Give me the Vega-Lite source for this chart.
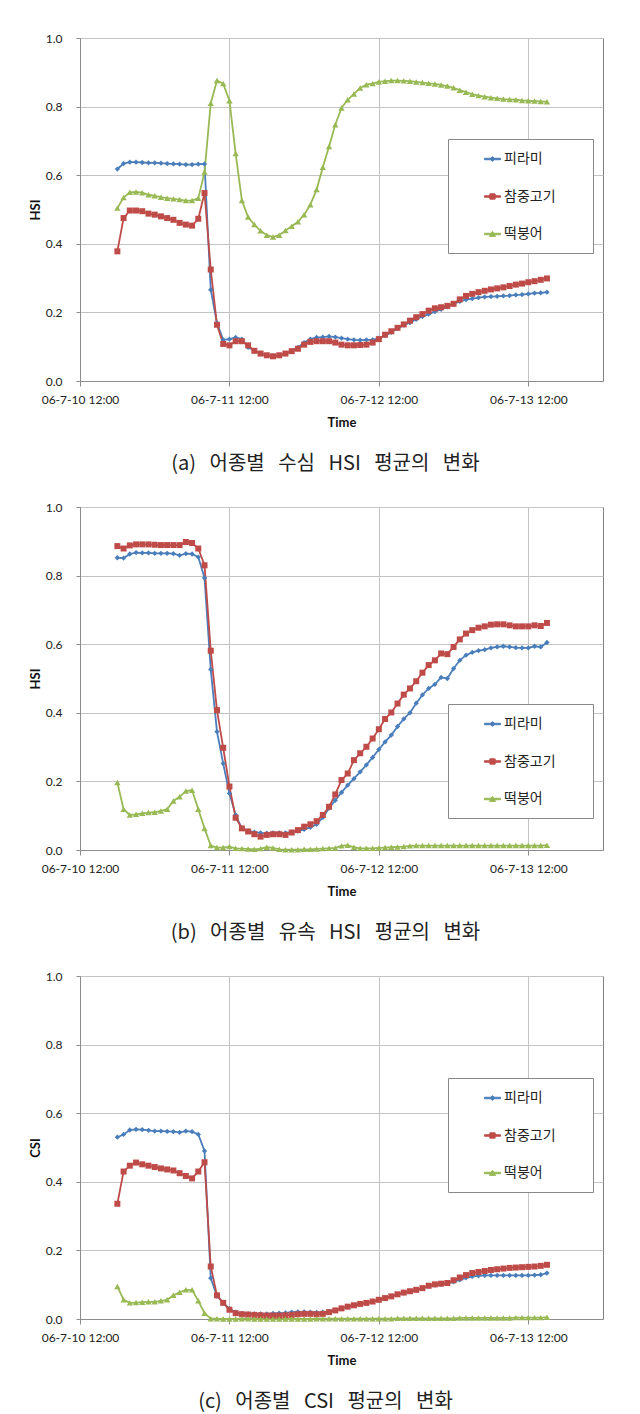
{
  "$schema": "https://vega.github.io/schema/vega-lite/v6.json",
  "padding": {"left": 28, "top": 31, "right": 5, "bottom": 5},
  "background": "white",
  "bounds": "flush",
  "spacing": 126,
  "datasets": {
    "a": [
      {"t":"2006-07-10T18:00","피라미":0.618,"참중고기":0.378,"떡붕어":0.504},
      {"t":"2006-07-10T19:00","피라미":0.634,"참중고기":0.475,"떡붕어":0.535},
      {"t":"2006-07-10T20:00","피라미":0.638,"참중고기":0.497,"떡붕어":0.550},
      {"t":"2006-07-10T21:00","피라미":0.638,"참중고기":0.497,"떡붕어":0.551},
      {"t":"2006-07-10T22:00","피라미":0.637,"참중고기":0.495,"떡붕어":0.549},
      {"t":"2006-07-10T23:00","피라미":0.636,"참중고기":0.488,"떡붕어":0.543},
      {"t":"2006-07-11T00:00","피라미":0.636,"참중고기":0.485,"떡붕어":0.540},
      {"t":"2006-07-11T01:00","피라미":0.635,"참중고기":0.480,"떡붕어":0.536},
      {"t":"2006-07-11T02:00","피라미":0.634,"참중고기":0.475,"떡붕어":0.533},
      {"t":"2006-07-11T03:00","피라미":0.633,"참중고기":0.470,"떡붕어":0.531},
      {"t":"2006-07-11T04:00","피라미":0.632,"참중고기":0.461,"떡붕어":0.529},
      {"t":"2006-07-11T05:00","피라미":0.631,"참중고기":0.456,"떡붕어":0.526},
      {"t":"2006-07-11T06:00","피라미":0.631,"참중고기":0.453,"떡붕어":0.526},
      {"t":"2006-07-11T07:00","피라미":0.632,"참중고기":0.473,"떡붕어":0.533},
      {"t":"2006-07-11T08:00","피라미":0.633,"참중고기":0.548,"떡붕어":0.609},
      {"t":"2006-07-11T09:00","피라미":0.266,"참중고기":0.325,"떡붕어":0.810},
      {"t":"2006-07-11T10:00","피라미":0.169,"참중고기":0.164,"떡붕어":0.876},
      {"t":"2006-07-11T11:00","피라미":0.120,"참중고기":0.108,"떡붕어":0.867},
      {"t":"2006-07-11T12:00","피라미":0.122,"참중고기":0.104,"떡붕어":0.817},
      {"t":"2006-07-11T13:00","피라미":0.127,"참중고기":0.116,"떡붕어":0.663},
      {"t":"2006-07-11T14:00","피라미":0.122,"참중고기":0.116,"떡붕어":0.526},
      {"t":"2006-07-11T15:00","피라미":0.098,"참중고기":0.104,"떡붕어":0.478},
      {"t":"2006-07-11T16:00","피라미":0.088,"참중고기":0.088,"떡붕어":0.456},
      {"t":"2006-07-11T17:00","피라미":0.080,"참중고기":0.080,"떡붕어":0.438},
      {"t":"2006-07-11T18:00","피라미":0.075,"참중고기":0.075,"떡붕어":0.425},
      {"t":"2006-07-11T19:00","피라미":0.073,"참중고기":0.072,"떡붕어":0.420},
      {"t":"2006-07-11T20:00","피라미":0.075,"참중고기":0.075,"떡붕어":0.425},
      {"t":"2006-07-11T21:00","피라미":0.080,"참중고기":0.080,"떡붕어":0.439},
      {"t":"2006-07-11T22:00","피라미":0.088,"참중고기":0.087,"떡붕어":0.451},
      {"t":"2006-07-11T23:00","피라미":0.098,"참중고기":0.094,"떡붕어":0.464},
      {"t":"2006-07-12T00:00","피라미":0.112,"참중고기":0.106,"떡붕어":0.485},
      {"t":"2006-07-12T01:00","피라미":0.122,"참중고기":0.114,"떡붕어":0.514},
      {"t":"2006-07-12T02:00","피라미":0.127,"참중고기":0.116,"떡붕어":0.558},
      {"t":"2006-07-12T03:00","피라미":0.128,"참중고기":0.116,"떡붕어":0.623},
      {"t":"2006-07-12T04:00","피라미":0.130,"참중고기":0.116,"떡붕어":0.684},
      {"t":"2006-07-12T05:00","피라미":0.128,"참중고기":0.112,"떡붕어":0.747},
      {"t":"2006-07-12T06:00","피라미":0.125,"참중고기":0.106,"떡붕어":0.796},
      {"t":"2006-07-12T07:00","피라미":0.122,"참중고기":0.104,"떡붕어":0.820},
      {"t":"2006-07-12T08:00","피라미":0.120,"참중고기":0.104,"떡붕어":0.837},
      {"t":"2006-07-12T09:00","피라미":0.119,"참중고기":0.105,"떡붕어":0.854},
      {"t":"2006-07-12T10:00","피라미":0.120,"참중고기":0.106,"떡붕어":0.864},
      {"t":"2006-07-12T11:00","피라미":0.120,"참중고기":0.112,"떡붕어":0.867},
      {"t":"2006-07-12T12:00","피라미":0.125,"참중고기":0.122,"떡붕어":0.872},
      {"t":"2006-07-12T13:00","피라미":0.132,"참중고기":0.135,"떡붕어":0.874},
      {"t":"2006-07-12T14:00","피라미":0.142,"참중고기":0.145,"떡붕어":0.876},
      {"t":"2006-07-12T15:00","피라미":0.153,"참중고기":0.155,"떡붕어":0.876},
      {"t":"2006-07-12T16:00","피라미":0.163,"참중고기":0.165,"떡붕어":0.875},
      {"t":"2006-07-12T17:00","피라미":0.170,"참중고기":0.176,"떡붕어":0.874},
      {"t":"2006-07-12T18:00","피라미":0.180,"참중고기":0.186,"떡붕어":0.872},
      {"t":"2006-07-12T19:00","피라미":0.188,"참중고기":0.195,"떡붕어":0.870},
      {"t":"2006-07-12T20:00","피라미":0.195,"참중고기":0.205,"떡붕어":0.868},
      {"t":"2006-07-12T21:00","피라미":0.202,"참중고기":0.212,"떡붕어":0.866},
      {"t":"2006-07-12T22:00","피라미":0.209,"참중고기":0.215,"떡붕어":0.863},
      {"t":"2006-07-12T23:00","피라미":0.216,"참중고기":0.219,"떡붕어":0.860},
      {"t":"2006-07-13T00:00","피라미":0.225,"참중고기":0.225,"떡붕어":0.855},
      {"t":"2006-07-13T01:00","피라미":0.232,"참중고기":0.238,"떡붕어":0.848},
      {"t":"2006-07-13T02:00","피라미":0.237,"참중고기":0.248,"떡붕어":0.842},
      {"t":"2006-07-13T03:00","피라미":0.240,"참중고기":0.254,"떡붕어":0.836},
      {"t":"2006-07-13T04:00","피라미":0.243,"참중고기":0.259,"떡붕어":0.832},
      {"t":"2006-07-13T05:00","피라미":0.245,"참중고기":0.263,"떡붕어":0.829},
      {"t":"2006-07-13T06:00","피라미":0.246,"참중고기":0.267,"떡붕어":0.826},
      {"t":"2006-07-13T07:00","피라미":0.247,"참중고기":0.270,"떡붕어":0.824},
      {"t":"2006-07-13T08:00","피라미":0.248,"참중고기":0.273,"떡붕어":0.822},
      {"t":"2006-07-13T09:00","피라미":0.249,"참중고기":0.277,"떡붕어":0.821},
      {"t":"2006-07-13T10:00","피라미":0.251,"참중고기":0.281,"떡붕어":0.820},
      {"t":"2006-07-13T11:00","피라미":0.252,"참중고기":0.284,"떡붕어":0.818},
      {"t":"2006-07-13T12:00","피라미":0.254,"참중고기":0.288,"떡붕어":0.817},
      {"t":"2006-07-13T13:00","피라미":0.256,"참중고기":0.291,"떡붕어":0.816},
      {"t":"2006-07-13T14:00","피라미":0.257,"참중고기":0.295,"떡붕어":0.815},
      {"t":"2006-07-13T15:00","피라미":0.259,"참중고기":0.299,"떡붕어":0.814}
    ],
    "b": [
      {"t":"2006-07-10T18:00","피라미":0.852,"참중고기":0.886,"떡붕어":0.197},
      {"t":"2006-07-10T19:00","피라미":0.851,"참중고기":0.879,"떡붕어":0.119},
      {"t":"2006-07-10T20:00","피라미":0.863,"참중고기":0.888,"떡붕어":0.102},
      {"t":"2006-07-10T21:00","피라미":0.867,"참중고기":0.891,"떡붕어":0.104},
      {"t":"2006-07-10T22:00","피라미":0.866,"참중고기":0.891,"떡붕어":0.107},
      {"t":"2006-07-10T23:00","피라미":0.866,"참중고기":0.891,"떡붕어":0.109},
      {"t":"2006-07-11T00:00","피라미":0.865,"참중고기":0.890,"떡붕어":0.110},
      {"t":"2006-07-11T01:00","피라미":0.865,"참중고기":0.889,"떡붕어":0.114},
      {"t":"2006-07-11T02:00","피라미":0.865,"참중고기":0.889,"떡붕어":0.119},
      {"t":"2006-07-11T03:00","피라미":0.864,"참중고기":0.889,"떡붕어":0.143},
      {"t":"2006-07-11T04:00","피라미":0.859,"참중고기":0.889,"떡붕어":0.155},
      {"t":"2006-07-11T05:00","피라미":0.864,"참중고기":0.898,"떡붕어":0.172},
      {"t":"2006-07-11T06:00","피라미":0.863,"참중고기":0.895,"떡붕어":0.174},
      {"t":"2006-07-11T07:00","피라미":0.854,"참중고기":0.879,"떡붕어":0.119},
      {"t":"2006-07-11T08:00","피라미":0.793,"참중고기":0.830,"떡붕어":0.063},
      {"t":"2006-07-11T09:00","피라미":0.526,"참중고기":0.581,"떡붕어":0.013},
      {"t":"2006-07-11T10:00","피라미":0.345,"참중고기":0.408,"떡붕어":0.007},
      {"t":"2006-07-11T11:00","피라미":0.252,"참중고기":0.298,"떡붕어":0.007},
      {"t":"2006-07-11T12:00","피라미":0.165,"참중고기":0.185,"떡붕어":0.010},
      {"t":"2006-07-11T13:00","피라미":0.102,"참중고기":0.094,"떡붕어":0.005},
      {"t":"2006-07-11T14:00","피라미":0.063,"참중고기":0.063,"떡붕어":0.004},
      {"t":"2006-07-11T15:00","피라미":0.056,"참중고기":0.054,"떡붕어":0.003},
      {"t":"2006-07-11T16:00","피라미":0.052,"참중고기":0.046,"떡붕어":0.002},
      {"t":"2006-07-11T17:00","피라미":0.050,"참중고기":0.039,"떡붕어":0.004},
      {"t":"2006-07-11T18:00","피라미":0.049,"참중고기":0.044,"떡붕어":0.008},
      {"t":"2006-07-11T19:00","피라미":0.050,"참중고기":0.046,"떡붕어":0.006},
      {"t":"2006-07-11T20:00","피라미":0.050,"참중고기":0.046,"떡붕어":0.002},
      {"t":"2006-07-11T21:00","피라미":0.050,"참중고기":0.044,"떡붕어":0.001},
      {"t":"2006-07-11T22:00","피라미":0.052,"참중고기":0.051,"떡붕어":0.001},
      {"t":"2006-07-11T23:00","피라미":0.055,"참중고기":0.058,"떡붕어":0.001},
      {"t":"2006-07-12T00:00","피라미":0.060,"참중고기":0.068,"떡붕어":0.002},
      {"t":"2006-07-12T01:00","피라미":0.066,"참중고기":0.075,"떡붕어":0.002},
      {"t":"2006-07-12T02:00","피라미":0.075,"참중고기":0.084,"떡붕어":0.003},
      {"t":"2006-07-12T03:00","피라미":0.095,"참중고기":0.102,"떡붕어":0.004},
      {"t":"2006-07-12T04:00","피라미":0.122,"참중고기":0.126,"떡붕어":0.005},
      {"t":"2006-07-12T05:00","피라미":0.145,"참중고기":0.162,"떡붕어":0.006},
      {"t":"2006-07-12T06:00","피라미":0.168,"참중고기":0.204,"떡붕어":0.012},
      {"t":"2006-07-12T07:00","피라미":0.189,"참중고기":0.223,"떡붕어":0.014},
      {"t":"2006-07-12T08:00","피라미":0.208,"참중고기":0.262,"떡붕어":0.008},
      {"t":"2006-07-12T09:00","피라미":0.228,"참중고기":0.282,"떡붕어":0.005},
      {"t":"2006-07-12T10:00","피라미":0.248,"참중고기":0.301,"떡붕어":0.005},
      {"t":"2006-07-12T11:00","피라미":0.270,"참중고기":0.325,"떡붕어":0.005},
      {"t":"2006-07-12T12:00","피라미":0.293,"참중고기":0.352,"떡붕어":0.006},
      {"t":"2006-07-12T13:00","피라미":0.315,"참중고기":0.382,"떡붕어":0.007},
      {"t":"2006-07-12T14:00","피라미":0.335,"참중고기":0.401,"떡붕어":0.008},
      {"t":"2006-07-12T15:00","피라미":0.360,"참중고기":0.427,"떡붕어":0.009},
      {"t":"2006-07-12T16:00","피라미":0.382,"참중고기":0.453,"떡붕어":0.010},
      {"t":"2006-07-12T17:00","피라미":0.400,"참중고기":0.471,"떡붕어":0.012},
      {"t":"2006-07-12T18:00","피라미":0.428,"참중고기":0.492,"떡붕어":0.013},
      {"t":"2006-07-12T19:00","피라미":0.452,"참중고기":0.517,"떡붕어":0.013},
      {"t":"2006-07-12T20:00","피라미":0.471,"참중고기":0.539,"떡붕어":0.013},
      {"t":"2006-07-12T21:00","피라미":0.483,"참중고기":0.553,"떡붕어":0.013},
      {"t":"2006-07-12T22:00","피라미":0.503,"참중고기":0.573,"떡붕어":0.013},
      {"t":"2006-07-12T23:00","피라미":0.500,"참중고기":0.571,"떡붕어":0.013},
      {"t":"2006-07-13T00:00","피라미":0.529,"참중고기":0.592,"떡붕어":0.013},
      {"t":"2006-07-13T01:00","피라미":0.553,"참중고기":0.614,"떡붕어":0.013},
      {"t":"2006-07-13T02:00","피라미":0.568,"참중고기":0.631,"떡붕어":0.013},
      {"t":"2006-07-13T03:00","피라미":0.576,"참중고기":0.641,"떡붕어":0.013},
      {"t":"2006-07-13T04:00","피라미":0.581,"참중고기":0.648,"떡붕어":0.013},
      {"t":"2006-07-13T05:00","피라미":0.584,"참중고기":0.652,"떡붕어":0.013},
      {"t":"2006-07-13T06:00","피라미":0.589,"참중고기":0.657,"떡붕어":0.013},
      {"t":"2006-07-13T07:00","피라미":0.592,"참중고기":0.658,"떡붕어":0.013},
      {"t":"2006-07-13T08:00","피라미":0.594,"참중고기":0.658,"떡붕어":0.013},
      {"t":"2006-07-13T09:00","피라미":0.592,"참중고기":0.655,"떡붕어":0.013},
      {"t":"2006-07-13T10:00","피라미":0.590,"참중고기":0.652,"떡붕어":0.013},
      {"t":"2006-07-13T11:00","피라미":0.589,"참중고기":0.652,"떡붕어":0.013},
      {"t":"2006-07-13T12:00","피라미":0.589,"참중고기":0.652,"떡붕어":0.013},
      {"t":"2006-07-13T13:00","피라미":0.594,"참중고기":0.655,"떡붕어":0.013},
      {"t":"2006-07-13T14:00","피라미":0.592,"참중고기":0.653,"떡붕어":0.013},
      {"t":"2006-07-13T15:00","피라미":0.605,"참중고기":0.662,"떡붕어":0.014}
    ],
    "c": [
      {"t":"2006-07-10T18:00","피라미":0.530,"참중고기":0.336,"떡붕어":0.095},
      {"t":"2006-07-10T19:00","피라미":0.538,"참중고기":0.430,"떡붕어":0.056},
      {"t":"2006-07-10T20:00","피라미":0.551,"참중고기":0.447,"떡붕어":0.047},
      {"t":"2006-07-10T21:00","피라미":0.553,"참중고기":0.456,"떡붕어":0.048},
      {"t":"2006-07-10T22:00","피라미":0.552,"참중고기":0.451,"떡붕어":0.049},
      {"t":"2006-07-10T23:00","피라미":0.550,"참중고기":0.447,"떡붕어":0.050},
      {"t":"2006-07-11T00:00","피라미":0.548,"참중고기":0.443,"떡붕어":0.050},
      {"t":"2006-07-11T01:00","피라미":0.548,"참중고기":0.439,"떡붕어":0.053},
      {"t":"2006-07-11T02:00","피라미":0.547,"참중고기":0.436,"떡붕어":0.056},
      {"t":"2006-07-11T03:00","피라미":0.546,"참중고기":0.433,"떡붕어":0.069},
      {"t":"2006-07-11T04:00","피라미":0.544,"참중고기":0.425,"떡붕어":0.078},
      {"t":"2006-07-11T05:00","피라미":0.548,"참중고기":0.417,"떡붕어":0.085},
      {"t":"2006-07-11T06:00","피라미":0.546,"참중고기":0.410,"떡붕어":0.085},
      {"t":"2006-07-11T07:00","피라미":0.538,"참중고기":0.430,"떡붕어":0.053},
      {"t":"2006-07-11T08:00","피라미":0.490,"참중고기":0.457,"떡붕어":0.017},
      {"t":"2006-07-11T09:00","피라미":0.119,"참중고기":0.153,"떡붕어":0.001},
      {"t":"2006-07-11T10:00","피라미":0.067,"참중고기":0.069,"떡붕어":0.001},
      {"t":"2006-07-11T11:00","피라미":0.047,"참중고기":0.047,"떡붕어":0.000},
      {"t":"2006-07-11T12:00","피라미":0.030,"참중고기":0.027,"떡붕어":0.000},
      {"t":"2006-07-11T13:00","피라미":0.020,"참중고기":0.017,"떡붕어":0.000},
      {"t":"2006-07-11T14:00","피라미":0.016,"참중고기":0.014,"떡붕어":0.001},
      {"t":"2006-07-11T15:00","피라미":0.015,"참중고기":0.013,"떡붕어":0.001},
      {"t":"2006-07-11T16:00","피라미":0.015,"참중고기":0.012,"떡붕어":0.000},
      {"t":"2006-07-11T17:00","피라미":0.015,"참중고기":0.011,"떡붕어":0.000},
      {"t":"2006-07-11T18:00","피라미":0.015,"참중고기":0.010,"떡붕어":0.000},
      {"t":"2006-07-11T19:00","피라미":0.016,"참중고기":0.010,"떡붕어":0.000},
      {"t":"2006-07-11T20:00","피라미":0.017,"참중고기":0.010,"떡붕어":0.000},
      {"t":"2006-07-11T21:00","피라미":0.018,"참중고기":0.011,"떡붕어":0.000},
      {"t":"2006-07-11T22:00","피라미":0.020,"참중고기":0.012,"떡붕어":0.000},
      {"t":"2006-07-11T23:00","피라미":0.021,"참중고기":0.014,"떡붕어":0.000},
      {"t":"2006-07-12T00:00","피라미":0.021,"참중고기":0.015,"떡붕어":0.000},
      {"t":"2006-07-12T01:00","피라미":0.020,"참중고기":0.015,"떡붕어":0.000},
      {"t":"2006-07-12T02:00","피라미":0.019,"참중고기":0.014,"떡붕어":0.001},
      {"t":"2006-07-12T03:00","피라미":0.020,"참중고기":0.015,"떡붕어":0.001},
      {"t":"2006-07-12T04:00","피라미":0.022,"참중고기":0.020,"떡붕어":0.001},
      {"t":"2006-07-12T05:00","피라미":0.026,"참중고기":0.025,"떡붕어":0.001},
      {"t":"2006-07-12T06:00","피라미":0.031,"참중고기":0.031,"떡붕어":0.001},
      {"t":"2006-07-12T07:00","피라미":0.036,"참중고기":0.036,"떡붕어":0.001},
      {"t":"2006-07-12T08:00","피라미":0.040,"참중고기":0.040,"떡붕어":0.001},
      {"t":"2006-07-12T09:00","피라미":0.044,"참중고기":0.044,"떡붕어":0.001},
      {"t":"2006-07-12T10:00","피라미":0.047,"참중고기":0.047,"떡붕어":0.001},
      {"t":"2006-07-12T11:00","피라미":0.051,"참중고기":0.051,"떡붕어":0.001},
      {"t":"2006-07-12T12:00","피라미":0.056,"참중고기":0.056,"떡붕어":0.001},
      {"t":"2006-07-12T13:00","피라미":0.061,"참중고기":0.061,"떡붕어":0.001},
      {"t":"2006-07-12T14:00","피라미":0.066,"참중고기":0.066,"떡붕어":0.001},
      {"t":"2006-07-12T15:00","피라미":0.071,"참중고기":0.072,"떡붕어":0.002},
      {"t":"2006-07-12T16:00","피라미":0.076,"참중고기":0.077,"떡붕어":0.002},
      {"t":"2006-07-12T17:00","피라미":0.080,"참중고기":0.081,"떡붕어":0.002},
      {"t":"2006-07-12T18:00","피라미":0.084,"참중고기":0.085,"떡붕어":0.002},
      {"t":"2006-07-12T19:00","피라미":0.089,"참중고기":0.090,"떡붕어":0.002},
      {"t":"2006-07-12T20:00","피라미":0.095,"참중고기":0.097,"떡붕어":0.002},
      {"t":"2006-07-12T21:00","피라미":0.099,"참중고기":0.101,"떡붕어":0.002},
      {"t":"2006-07-12T22:00","피라미":0.101,"참중고기":0.103,"떡붕어":0.002},
      {"t":"2006-07-12T23:00","피라미":0.103,"참중고기":0.105,"떡붕어":0.002},
      {"t":"2006-07-13T00:00","피라미":0.108,"참중고기":0.113,"떡붕어":0.002},
      {"t":"2006-07-13T01:00","피라미":0.114,"참중고기":0.121,"떡붕어":0.003},
      {"t":"2006-07-13T02:00","피라미":0.120,"참중고기":0.128,"떡붕어":0.003},
      {"t":"2006-07-13T03:00","피라미":0.124,"참중고기":0.134,"떡붕어":0.003},
      {"t":"2006-07-13T04:00","피라미":0.126,"참중고기":0.137,"떡붕어":0.003},
      {"t":"2006-07-13T05:00","피라미":0.127,"참중고기":0.140,"떡붕어":0.003},
      {"t":"2006-07-13T06:00","피라미":0.127,"참중고기":0.143,"떡붕어":0.003},
      {"t":"2006-07-13T07:00","피라미":0.127,"참중고기":0.145,"떡붕어":0.003},
      {"t":"2006-07-13T08:00","피라미":0.127,"참중고기":0.147,"떡붕어":0.003},
      {"t":"2006-07-13T09:00","피라미":0.127,"참중고기":0.149,"떡붕어":0.003},
      {"t":"2006-07-13T10:00","피라미":0.127,"참중고기":0.150,"떡붕어":0.004},
      {"t":"2006-07-13T11:00","피라미":0.127,"참중고기":0.151,"떡붕어":0.004},
      {"t":"2006-07-13T12:00","피라미":0.127,"참중고기":0.152,"떡붕어":0.004},
      {"t":"2006-07-13T13:00","피라미":0.128,"참중고기":0.153,"떡붕어":0.004},
      {"t":"2006-07-13T14:00","피라미":0.129,"참중고기":0.155,"떡붕어":0.004},
      {"t":"2006-07-13T15:00","피라미":0.134,"참중고기":0.158,"떡붕어":0.005}
    ]
  },
  "vconcat": [
    {
      "data": {"name": "a"},
      "transform": [{"fold": ["피라미", "참중고기", "떡붕어"], "as": ["종", "값"]}],
      "width": 523,
      "height": 343,
      "title": {"text": "(a)\u00a0\u00a0\u00a0어종별\u00a0\u00a0\u00a0수심\u00a0\u00a0\u00a0HSI\u00a0\u00a0\u00a0평균의\u00a0\u00a0\u00a0변화", "orient": "bottom", "anchor": "middle", "dx": -16, "offset": 25},
      "encoding": {
        "x": {"field": "t", "type": "temporal",
          "scale": {"domain": [{"year": 2006, "month": 7, "date": 10, "hours": 12}, {"year": 2006, "month": 7, "date": 14, "hours": 0}]},
          "axis": {"title": "Time", "values": [{"year": 2006, "month": 7, "date": 10, "hours": 12}, {"year": 2006, "month": 7, "date": 11, "hours": 12}, {"year": 2006, "month": 7, "date": 12, "hours": 12}, {"year": 2006, "month": 7, "date": 13, "hours": 12}], "format": "%y-%-m-%d %H:%M"}},
        "y": {"field": "값", "type": "quantitative", "scale": {"domain": [0, 1]},
          "axis": {"title": "HSI", "values": [0, 0.2, 0.4, 0.6, 0.8, 1], "format": ".1f"}},
        "color": {"field": "종", "type": "nominal",
          "scale": {"domain": ["피라미", "참중고기", "떡붕어"], "range": ["#4A7EBB", "#BE4B48", "#98B954"]},
          "legend": {"legendX": 368, "legendY": 101, "labelExpr": "datum.label + '\u00a0\u00a0\u00a0\u00a0\u00a0\u00a0\u00a0\u00a0\u200b'",
            "symbolType": {"expr": "datum.value === '피라미' ? 'M-1,-0.09L1,-0.09L1,0.09L-1,0.09ZM-0.3,0L0,-0.3L0.3,0L0,0.3Z' : datum.value === '참중고기' ? 'M-1,-0.09L1,-0.09L1,0.09L-1,0.09ZM-0.33,-0.33L0.33,-0.33L0.33,0.33L-0.33,0.33Z' : 'M-1,-0.09L1,-0.09L1,0.09L-1,0.09ZM-0.38,0.3L0,-0.34L0.38,0.3Z'"}}}
      },
      "layer": [
        {"mark": {"type": "line", "strokeWidth": 1.8}},
        {"transform": [{"filter": "datum['종'] === '피라미'"}], "mark": {"type": "point", "filled": true, "opacity": 1, "shape": "diamond", "size": 28}},
        {"transform": [{"filter": "datum['종'] === '참중고기'"}], "mark": {"type": "point", "filled": true, "opacity": 1, "shape": "square", "size": 36}},
        {"transform": [{"filter": "datum['종'] === '떡붕어'"}], "mark": {"type": "point", "filled": true, "opacity": 1, "shape": "triangle-up", "size": 40}}
      ]
    },
    {
      "data": {"name": "b"},
      "transform": [{"fold": ["피라미", "참중고기", "떡붕어"], "as": ["종", "값"]}],
      "width": 523,
      "height": 343,
      "title": {"text": "(b)\u00a0\u00a0\u00a0어종별\u00a0\u00a0\u00a0유속\u00a0\u00a0\u00a0HSI\u00a0\u00a0\u00a0평균의\u00a0\u00a0\u00a0변화", "orient": "bottom", "anchor": "middle", "dx": -16, "offset": 25},
      "encoding": {
        "x": {"field": "t", "type": "temporal",
          "scale": {"domain": [{"year": 2006, "month": 7, "date": 10, "hours": 12}, {"year": 2006, "month": 7, "date": 14, "hours": 0}]},
          "axis": {"title": "Time", "values": [{"year": 2006, "month": 7, "date": 10, "hours": 12}, {"year": 2006, "month": 7, "date": 11, "hours": 12}, {"year": 2006, "month": 7, "date": 12, "hours": 12}, {"year": 2006, "month": 7, "date": 13, "hours": 12}], "format": "%y-%-m-%d %H:%M"}},
        "y": {"field": "값", "type": "quantitative", "scale": {"domain": [0, 1]},
          "axis": {"title": "HSI", "values": [0, 0.2, 0.4, 0.6, 0.8, 1], "format": ".1f"}},
        "color": {"field": "종", "type": "nominal",
          "scale": {"domain": ["피라미", "참중고기", "떡붕어"], "range": ["#4A7EBB", "#BE4B48", "#98B954"]},
          "legend": {"legendX": 368, "legendY": 197, "labelExpr": "datum.label + '\u00a0\u00a0\u00a0\u00a0\u00a0\u00a0\u00a0\u00a0\u200b'",
            "symbolType": {"expr": "datum.value === '피라미' ? 'M-1,-0.09L1,-0.09L1,0.09L-1,0.09ZM-0.3,0L0,-0.3L0.3,0L0,0.3Z' : datum.value === '참중고기' ? 'M-1,-0.09L1,-0.09L1,0.09L-1,0.09ZM-0.33,-0.33L0.33,-0.33L0.33,0.33L-0.33,0.33Z' : 'M-1,-0.09L1,-0.09L1,0.09L-1,0.09ZM-0.38,0.3L0,-0.34L0.38,0.3Z'"}}}
      },
      "layer": [
        {"mark": {"type": "line", "strokeWidth": 1.8}},
        {"transform": [{"filter": "datum['종'] === '피라미'"}], "mark": {"type": "point", "filled": true, "opacity": 1, "shape": "diamond", "size": 28}},
        {"transform": [{"filter": "datum['종'] === '참중고기'"}], "mark": {"type": "point", "filled": true, "opacity": 1, "shape": "square", "size": 36}},
        {"transform": [{"filter": "datum['종'] === '떡붕어'"}], "mark": {"type": "point", "filled": true, "opacity": 1, "shape": "triangle-up", "size": 40}}
      ]
    },
    {
      "data": {"name": "c"},
      "transform": [{"fold": ["피라미", "참중고기", "떡붕어"], "as": ["종", "값"]}],
      "width": 523,
      "height": 343,
      "title": {"text": "(c)\u00a0\u00a0\u00a0어종별\u00a0\u00a0\u00a0CSI\u00a0\u00a0\u00a0평균의\u00a0\u00a0\u00a0변화", "orient": "bottom", "anchor": "middle", "dx": -16, "offset": 25},
      "encoding": {
        "x": {"field": "t", "type": "temporal",
          "scale": {"domain": [{"year": 2006, "month": 7, "date": 10, "hours": 12}, {"year": 2006, "month": 7, "date": 14, "hours": 0}]},
          "axis": {"title": "Time", "values": [{"year": 2006, "month": 7, "date": 10, "hours": 12}, {"year": 2006, "month": 7, "date": 11, "hours": 12}, {"year": 2006, "month": 7, "date": 12, "hours": 12}, {"year": 2006, "month": 7, "date": 13, "hours": 12}], "format": "%y-%-m-%d %H:%M"}},
        "y": {"field": "값", "type": "quantitative", "scale": {"domain": [0, 1]},
          "axis": {"title": "CSI", "values": [0, 0.2, 0.4, 0.6, 0.8, 1], "format": ".1f"}},
        "color": {"field": "종", "type": "nominal",
          "scale": {"domain": ["피라미", "참중고기", "떡붕어"], "range": ["#4A7EBB", "#BE4B48", "#98B954"]},
          "legend": {"legendX": 368, "legendY": 102, "labelExpr": "datum.label + '\u00a0\u00a0\u00a0\u00a0\u00a0\u00a0\u00a0\u00a0\u200b'",
            "symbolType": {"expr": "datum.value === '피라미' ? 'M-1,-0.09L1,-0.09L1,0.09L-1,0.09ZM-0.3,0L0,-0.3L0.3,0L0,0.3Z' : datum.value === '참중고기' ? 'M-1,-0.09L1,-0.09L1,0.09L-1,0.09ZM-0.33,-0.33L0.33,-0.33L0.33,0.33L-0.33,0.33Z' : 'M-1,-0.09L1,-0.09L1,0.09L-1,0.09ZM-0.38,0.3L0,-0.34L0.38,0.3Z'"}}}
      },
      "layer": [
        {"mark": {"type": "line", "strokeWidth": 1.8}},
        {"transform": [{"filter": "datum['종'] === '피라미'"}], "mark": {"type": "point", "filled": true, "opacity": 1, "shape": "diamond", "size": 28}},
        {"transform": [{"filter": "datum['종'] === '참중고기'"}], "mark": {"type": "point", "filled": true, "opacity": 1, "shape": "square", "size": 36}},
        {"transform": [{"filter": "datum['종'] === '떡붕어'"}], "mark": {"type": "point", "filled": true, "opacity": 1, "shape": "triangle-up", "size": 40}}
      ]
    }
  ],
  "resolve": {"scale": {"color": "independent"}, "legend": {"color": "independent"}},
  "config": {
    "view": {"stroke": "#808080", "strokeWidth": 1},
    "axis": {
      "gridColor": "#C4C4C4", "gridWidth": 1, "domainColor": "#8C8C8C", "tickColor": "#8C8C8C",
      "labelFont": "Lato", "labelFontSize": 12, "labelColor": "#222",
      "titleFont": "Lato", "titleFontSize": 13, "titleFontWeight": "bold", "titleColor": "#111"
    },
    "axisX": {"tickSize": 5, "labelPadding": 8, "labelFlush": false, "labelOverlap": false, "titlePadding": 11},
    "axisY": {"tickSize": 4, "labelPadding": 14, "titlePadding": 3},
    "title": {"font": "Noto Sans CJK KR", "fontSize": 20, "fontWeight": "normal", "color": "#222", "baseline": "top"},
    "legend": {
      "orient": "none", "title": null, "padding": 11.5, "strokeColor": "#888", "fillColor": "white",
      "labelFont": "Noto Sans CJK KR", "labelFontSize": 14, "labelColor": "#222", "labelOffset": 3,
      "rowPadding": 21.5, "symbolSize": 256, "symbolOffset": 24.5, "symbolStrokeWidth": 1,
      "symbolFillColor": {"expr": "datum.value === '피라미' ? '#4A7EBB' : datum.value === '참중고기' ? '#BE4B48' : '#98B954'"},
      "symbolStrokeColor": {"expr": "datum.value === '피라미' ? '#4A7EBB' : datum.value === '참중고기' ? '#BE4B48' : '#98B954'"}
    }
  }
}
